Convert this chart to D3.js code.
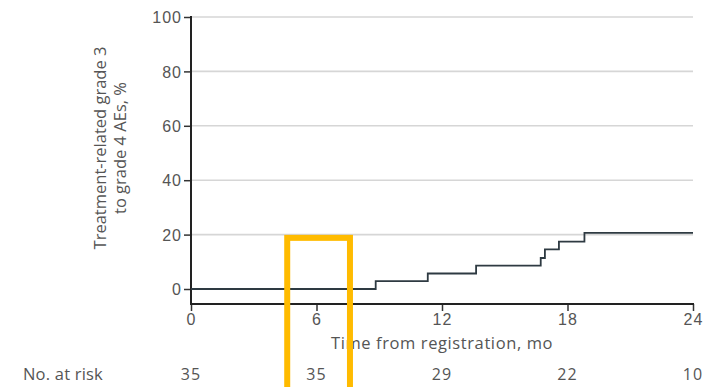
<!DOCTYPE html>
<html>
<head>
<meta charset="utf-8">
<script src="https://cdn.jsdelivr.net/npm/d3@7"></script>
<style>
  html, body { margin: 0; padding: 0; background: #fff; }
  svg { display: block; font-family: "Open Sans", Lato, sans-serif; }
</style>
</head>
<body>
<svg id="chart" width="708" height="387"></svg>
<script>
// Cumulative incidence of treatment-related grade 3-4 adverse events
const eventMonths = [0, 8.83, 11.32, 13.63, 16.72, 16.92, 17.59, 18.81, 24];
const eventPct    = [0, 2.9, 5.7, 8.6, 11.4, 14.6, 17.4, 20.6, 20.6];

const xTicks = [0, 6, 12, 18, 24];
const yTicks = [0, 20, 40, 60, 80, 100];
const atRiskMonths = [0, 6, 12, 18, 24];
const atRiskCounts = [35, 35, 29, 22, 10];

// highlighted interval on the time axis (months)
const highlightMonths = [4.6, 7.6];
const highlightTopPct = 18.8;

const svg = d3.select("#chart");
const left = 191, right = 693, top0 = 17, zeroY = 289, axisY = 304;

const x = d3.scaleLinear().domain([0, 24]).range([left, right]);
const y = d3.scaleLinear().domain([0, 100]).range([zeroY, top0]);

const textColor = "#555";

// gridlines
svg.append("g").selectAll("line")
  .data(yTicks.filter(d => d > 0))
  .join("line")
  .attr("x1", left).attr("x2", right)
  .attr("y1", d => y(d)).attr("y2", d => y(d))
  .attr("stroke", "#d6d6d6").attr("stroke-width", 1.6);

// y axis
const yAxis = d3.axisLeft(y).tickValues(yTicks).tickSize(7).tickPadding(2);
const gy = svg.append("g").attr("transform", `translate(${left},0)`).call(yAxis);
gy.select(".domain").remove();
gy.append("line").attr("x1", 0).attr("x2", 0).attr("y1", top0 - 1).attr("y2", axisY + 1)
  .attr("stroke", "#222").attr("stroke-width", 2);
gy.selectAll(".tick line").attr("stroke", "#333").attr("stroke-width", 1.5);
gy.selectAll(".tick text").attr("fill", textColor).attr("font-size", 16)
  .attr("letter-spacing", 1).attr("dy", "0.36em");

// x axis
const xAxis = d3.axisBottom(x).tickValues(xTicks).tickSize(7).tickPadding(3);
const gx = svg.append("g").attr("transform", `translate(0,${axisY})`).call(xAxis);
gx.select(".domain").remove();
gx.append("line").attr("x1", left).attr("x2", right + 1).attr("y1", 0).attr("y2", 0)
  .attr("stroke", "#222").attr("stroke-width", 2);
gx.selectAll(".tick line").attr("stroke", "#333").attr("stroke-width", 1.5);
gx.selectAll(".tick text").attr("fill", textColor).attr("font-size", 16).attr("letter-spacing", 1);

// axis titles
svg.append("text")
  .attr("x", x(12)).attr("y", 349)
  .attr("text-anchor", "middle").attr("fill", textColor).attr("font-size", 16.5)
  .attr("letter-spacing", 0.6)
  .text("Time from registration, mo");

const yTitle = svg.append("text")
  .attr("transform", "translate(106,148) rotate(-90)")
  .attr("text-anchor", "middle").attr("fill", textColor).attr("font-size", 16.5);
yTitle.append("tspan").attr("x", 0).attr("dy", 0).text("Treatment-related grade 3");
yTitle.append("tspan").attr("x", 0).attr("dy", 20).text("to grade 4 AEs, %");

// step curve
const pts = eventMonths.map((m, i) => [m, eventPct[i]]);
const line = d3.line().x(d => x(d[0])).y(d => y(d[1])).curve(d3.curveStepAfter);
svg.append("path").datum(pts)
  .attr("d", line).attr("fill", "none")
  .attr("stroke", "#2e3a42").attr("stroke-width", 1.8);

// number at risk
svg.append("text").attr("x", 23).attr("y", 380)
  .attr("fill", textColor).attr("font-size", 16.5).attr("letter-spacing", 0.2)
  .text("No. at risk");
svg.append("g").selectAll("text")
  .data(atRiskCounts)
  .join("text")
  .attr("x", (d, i) => x(atRiskMonths[i])).attr("y", 380)
  .attr("text-anchor", "middle").attr("fill", textColor).attr("font-size", 16)
  .attr("letter-spacing", 1)
  .text(d => d);

// highlight box
svg.append("rect")
  .attr("x", x(highlightMonths[0])).attr("y", y(highlightTopPct))
  .attr("width", x(highlightMonths[1]) - x(highlightMonths[0]))
  .attr("height", 200)
  .attr("fill", "none").attr("stroke", "#ffbb00").attr("stroke-width", 6);
</script>
</body>
</html>
